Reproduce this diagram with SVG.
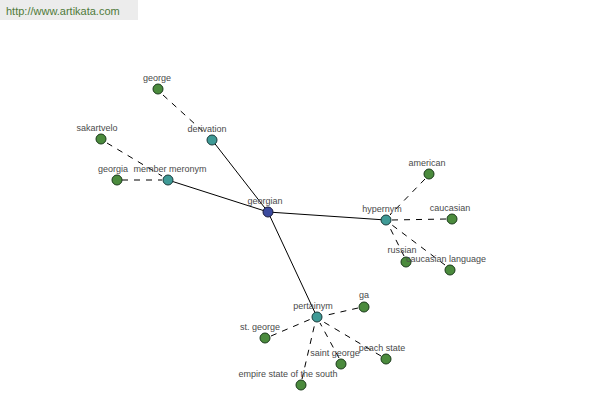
<svg xmlns="http://www.w3.org/2000/svg" width="600" height="400" viewBox="0 0 600 400">
<style>
.wm{fill:#ececec}
.wmt{font-family:"Liberation Sans",Arial,sans-serif;font-size:11px;fill:#4f7a3a}
.lbl{font-family:"Liberation Sans",Arial,sans-serif;font-size:9px;fill:#4a4a4a;text-anchor:middle}
.solid{stroke:#000;stroke-width:1;fill:none}
.dash{stroke:#000;stroke-width:1;fill:none;stroke-dasharray:6,6}
.root{fill:#3b4a9e;stroke:#1a1a3a;stroke-width:1}
.rel{fill:#3f9a96;stroke:#1a3a3a;stroke-width:1}
.leaf{fill:#4b8b3d;stroke:#1a3a1a;stroke-width:1}
</style>
<rect width="600" height="400" fill="#fff"/>
<rect class="wm" x="0" y="0" width="138" height="20"/>
<text class="wmt" x="6" y="15">http://www.artikata.com</text>
<g id="connectors">
<line class="solid" x1="268" y1="212" x2="212" y2="140"/>
<line class="solid" x1="268" y1="212" x2="168" y2="180"/>
<line class="solid" x1="268" y1="212" x2="386" y2="220"/>
<line class="solid" x1="268" y1="212" x2="317" y2="317"/>
<line class="dash" x1="163" y1="95" x2="207" y2="135"/>
<line class="dash" x1="107" y1="143" x2="162" y2="176"/>
<line class="dash" x1="122" y1="180" x2="162" y2="180"/>
<line class="dash" x1="425" y1="179" x2="390" y2="215"/>
<line class="dash" x1="446" y1="219" x2="392" y2="220"/>
<line class="dash" x1="404" y1="256" x2="389" y2="226"/>
<line class="dash" x1="445" y1="265" x2="392" y2="225"/>
<line class="dash" x1="358" y1="308" x2="323" y2="316"/>
<line class="dash" x1="271" y1="336" x2="311" y2="319"/>
<line class="dash" x1="339" y1="358" x2="320" y2="323"/>
<line class="dash" x1="381" y1="356" x2="322" y2="321"/>
<line class="dash" x1="302" y1="379" x2="315" y2="323"/>
</g>
<g id="n-georgian"><circle class="root" cx="268" cy="212" r="5"/><text class="lbl" x="265" y="204">georgian</text></g>
<g id="n-derivation"><circle class="rel" cx="212" cy="140" r="5"/><text class="lbl" x="207" y="132">derivation</text></g>
<g id="n-member-meronym"><circle class="rel" cx="168" cy="180" r="5"/><text class="lbl" x="170" y="172">member meronym</text></g>
<g id="n-hypernym"><circle class="rel" cx="386" cy="220" r="5"/><text class="lbl" x="382" y="212">hypernym</text></g>
<g id="n-pertainym"><circle class="rel" cx="317" cy="317" r="5"/><text class="lbl" x="313" y="309">pertainym</text></g>
<g id="n-george"><circle class="leaf" cx="158" cy="89" r="5"/><text class="lbl" x="157" y="81">george</text></g>
<g id="n-sakartvelo"><circle class="leaf" cx="101" cy="139" r="5"/><text class="lbl" x="97" y="131">sakartvelo</text></g>
<g id="n-georgia"><circle class="leaf" cx="117" cy="180" r="5"/><text class="lbl" x="113" y="172">georgia</text></g>
<g id="n-american"><circle class="leaf" cx="429" cy="174" r="5"/><text class="lbl" x="427" y="166">american</text></g>
<g id="n-caucasian"><circle class="leaf" cx="452" cy="219" r="5"/><text class="lbl" x="450" y="211">caucasian</text></g>
<g id="n-russian"><circle class="leaf" cx="406" cy="262" r="5"/><text class="lbl" x="402" y="253">russian</text></g>
<g id="n-caucasian-language"><circle class="leaf" cx="450" cy="270" r="5"/><text class="lbl" x="446" y="262">caucasian language</text></g>
<g id="n-ga"><circle class="leaf" cx="364" cy="307" r="5"/><text class="lbl" x="364" y="298">ga</text></g>
<g id="n-st-george"><circle class="leaf" cx="265" cy="338" r="5"/><text class="lbl" x="260" y="330">st. george</text></g>
<g id="n-saint-george"><circle class="leaf" cx="341" cy="364" r="5"/><text class="lbl" x="335" y="356">saint george</text></g>
<g id="n-peach-state"><circle class="leaf" cx="386" cy="359" r="5"/><text class="lbl" x="382" y="351">peach state</text></g>
<g id="n-empire-state"><circle class="leaf" cx="301" cy="385" r="5"/><text class="lbl" x="288" y="377">empire state of the south</text></g>
</svg>
